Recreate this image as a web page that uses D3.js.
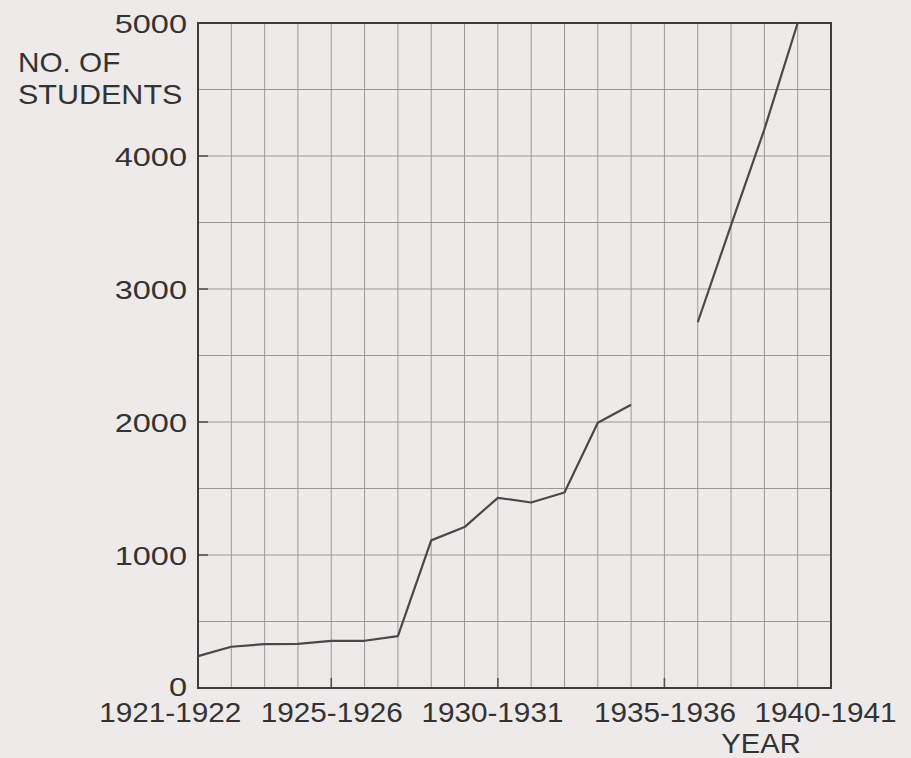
<!DOCTYPE html>
<html>
<head>
<meta charset="utf-8">
<script src="https://cdn.jsdelivr.net/npm/d3@7/dist/d3.min.js"></script>
<style>
  html, body { margin: 0; padding: 0; background: #eeeaea; }
  svg { display: block; }
  text { font-family: "Liberation Sans", Arial, Helvetica, sans-serif; fill: #333; }
</style>
</head>
<body>
<svg id="chart" width="911" height="758"></svg>
<script>
// ---- data ----
const years = ["1921-1922","1922-1923","1923-1924","1924-1925","1925-1926","1926-1927",
               "1927-1928","1928-1929","1929-1930","1930-1931","1931-1932","1932-1933",
               "1933-1934","1934-1935","1935-1936","1936-1937","1937-1938","1938-1939",
               "1939-1940","1940-1941"];
const students = [240, 310, 330, 332, 355, 355, 390, 1110, 1210, 1430, 1395, 1470,
                  1995, 2130, null, 2750, 3480, 4200, 5000, null];
const xTickLabels = ["1921-1922","1925-1926","1930-1931","1935-1936","1940-1941"];
const yTicks = [0, 1000, 2000, 3000, 4000, 5000];
const yGrid = [500, 1000, 1500, 2000, 2500, 3000, 3500, 4000, 4500];
const yTitle = ["NO. OF", "STUDENTS"];
const xTitle = "YEAR";

// ---- layout ----
const L = 198, R = 831, T = 23, B = 688;
const svg = d3.select("#chart");

const x = d3.scalePoint().domain(years).range([L, R]).padding(0);
const y = d3.scaleLinear().domain([0, 5000]).range([B, T]);

// grid
const grid = svg.append("g").attr("stroke", "#9a9797").attr("stroke-width", 1);
grid.selectAll("line.v").data(years.slice(1, -1)).join("line")
  .attr("class", "v")
  .attr("x1", d => x(d)).attr("x2", d => x(d))
  .attr("y1", T).attr("y2", B);
grid.selectAll("line.h").data(yGrid).join("line")
  .attr("class", "h")
  .attr("x1", L).attr("x2", R)
  .attr("y1", d => y(d)).attr("y2", d => y(d));

// short inward tick marks
const marks = svg.append("g").attr("stroke", "#555").attr("stroke-width", 1.6);
marks.selectAll("line.xt").data(xTickLabels.slice(1, -1)).join("line")
  .attr("class", "xt")
  .attr("x1", d => x(d)).attr("x2", d => x(d))
  .attr("y1", B).attr("y2", B - 10);
marks.selectAll("line.yt").data(yTicks.slice(1, -1)).join("line")
  .attr("class", "yt")
  .attr("x1", L).attr("x2", L + 10)
  .attr("y1", d => y(d)).attr("y2", d => y(d));

// frame
svg.append("rect")
  .attr("x", L).attr("y", T).attr("width", R - L).attr("height", B - T)
  .attr("fill", "none").attr("stroke", "#3e3c3c").attr("stroke-width", 2);

// line
const line = d3.line()
  .defined(d => d.v != null)
  .x(d => x(d.year))
  .y(d => y(d.v));
svg.append("path")
  .datum(years.map((yr, i) => ({ year: yr, v: students[i] })))
  .attr("fill", "none")
  .attr("stroke", "#4a4848")
  .attr("stroke-width", 2.2)
  .attr("stroke-linejoin", "round")
  .attr("d", line);

// y axis labels
const yAxis = d3.axisLeft(y).tickValues(yTicks).tickSize(0).tickPadding(0).tickFormat(d3.format("d"));
const gy = svg.append("g").attr("transform", `translate(${L - 11},0)`).call(yAxis);
gy.select(".domain").remove();
gy.selectAll("text")
  .attr("font-size", 26)
  .attr("x", null)
  .attr("dy", d => d === 0 ? "0.28em" : "0.36em")
  .attr("transform", "scale(1.25,1)")
  .style("fill", "#333");

// x axis labels
const xAxis = d3.axisBottom(x).tickValues(xTickLabels).tickSize(0).tickPadding(14);
const gx = svg.append("g").attr("transform", `translate(0,${B})`).call(xAxis);
gx.select(".domain").remove();
gx.selectAll(".tick text")
  .attr("font-size", 27)
  .attr("y", null)
  .attr("transform", "translate(0,15) scale(1.1,1)")
  .attr("dx", (d, i) => i === 0 ? "-0.95em" : (i === 2 || i === 4 ? "-0.2em" : 0))
  .style("fill", "#333");

// titles
svg.append("g").selectAll("text").data(yTitle).join("text")
  .attr("transform", (d, i) => `translate(18,${72 + i * 32}) scale(${i === 0 ? 1.1 : 1.13},1)`)
  .attr("font-size", 27)
  .text(d => d);

svg.append("text")
  .attr("transform", "translate(761,753) scale(1.08,1)")
  .attr("text-anchor", "middle")
  .attr("font-size", 27)
  .text(xTitle);
</script>
</body>
</html>
